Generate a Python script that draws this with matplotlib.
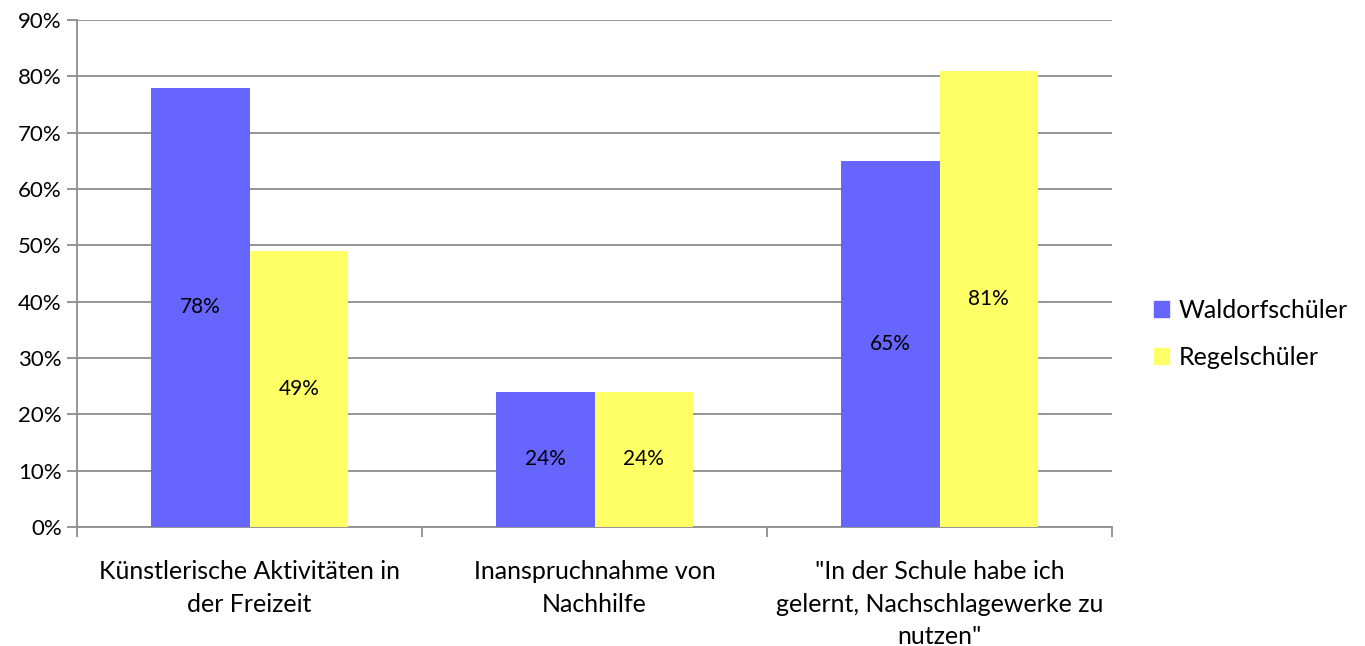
import numpy as np
import matplotlib.pyplot as plt
from matplotlib.patches import Patch

categories = ["Künstlerische Aktivitäten in\nder Freizeit",
              "Inanspruchnahme von\nNachhilfe",
              "\"In der Schule habe ich\ngelernt, Nachschlagewerke zu\nnutzen\""]
waldorf = [78, 24, 65]
regel = [49, 24, 81]
series_names = ["Waldorfschüler", "Regelschüler"]
colors = ["#6666FF", "#FFFF66"]

plt.rcParams['font.family'] = ['Lato', 'DejaVu Sans']

fig = plt.figure(figsize=(13.65, 6.46), dpi=100)
ax = fig.add_axes([77 / 1365, 1 - 527 / 646, (1112 - 77) / 1365, (527 - 20) / 646])

x = np.arange(len(categories))
w = 0.2855
b1 = ax.bar(x - w / 2, waldorf, w, color=colors[0], zorder=3)
b2 = ax.bar(x + w / 2, regel, w, color=colors[1], zorder=3)

for bars, vals in ((b1, waldorf), (b2, regel)):
    for rect, v in zip(bars, vals):
        ax.text(rect.get_x() + rect.get_width() / 2, v / 2, f"{v}%",
                ha='center', va='center', fontsize=15, color='black', zorder=4)

ax.set_xlim(-0.5, len(categories) - 0.5)
ax.set_ylim(0, 90)
ax.set_yticks(np.arange(0, 91, 10))
ax.set_yticklabels([f"{t}%" for t in range(0, 91, 10)], fontsize=16)
ax.yaxis.grid(True, color='#8c8c8c', linewidth=1.3, zorder=0)

ax.set_xticks(x)
ax.set_xticklabels(categories, fontsize=18, linespacing=1.5)
ax.set_xticks(np.arange(-0.5, len(categories), 1), minor=True)
ax.tick_params(axis='x', which='major', length=0, pad=24)
ax.tick_params(axis='x', which='minor', length=7, color='#8c8c8c', width=1.3)
ax.tick_params(axis='y', length=7, color='#8c8c8c', width=1.3, pad=4)

for s in ('top', 'right'):
    ax.spines[s].set_visible(False)
for s in ('left', 'bottom'):
    ax.spines[s].set_color('#8c8c8c')
    ax.spines[s].set_linewidth(1.3)

handles = [Patch(color=c, label=n) for c, n in zip(colors, series_names)]
fig.legend(handles=handles, loc='center left', bbox_to_anchor=(1131 / 1365, 1 - 334 / 646),
           frameon=False, fontsize=18, handlelength=0.6, handleheight=0.6,
           handletextpad=0.4, labelspacing=0.95)

fig.savefig("out.png", dpi=100)
